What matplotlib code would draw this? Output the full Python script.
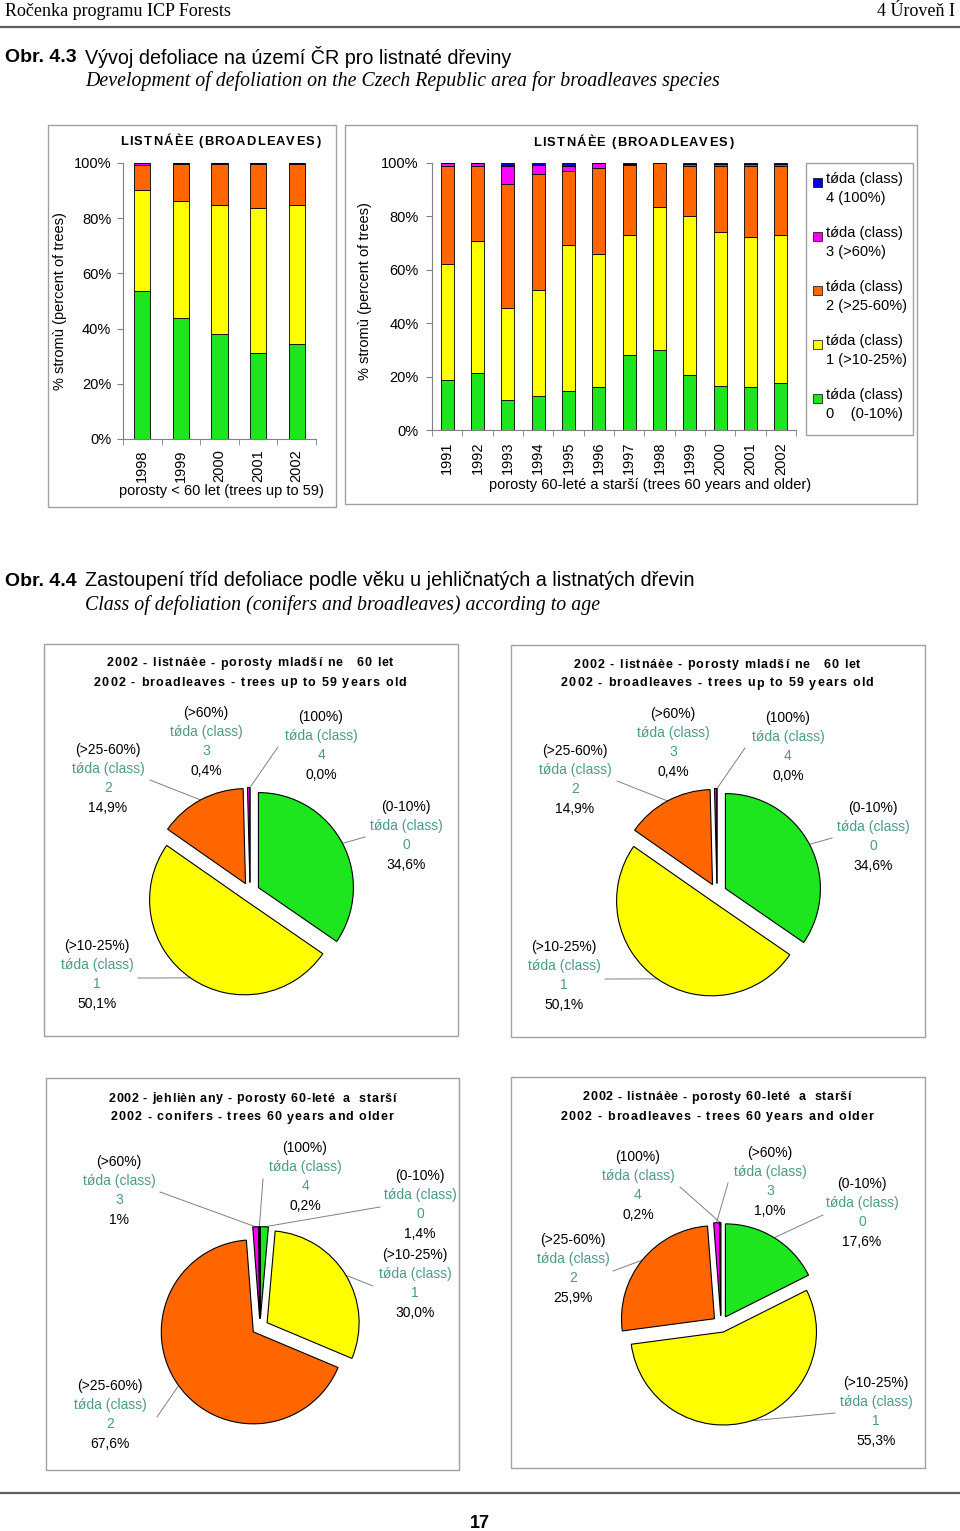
import numpy as np
import matplotlib
matplotlib.use('Agg')
import matplotlib.pyplot as plt
from matplotlib.patches import Rectangle

plt.rcParams['font.family'] = ['Liberation Sans', 'DejaVu Sans']

W, H = 960, 1531

# --- data: listnace, porosty do 59 let (podil trid defoliace v %)
roky_mlade = ['1998', '1999', '2000', '2001', '2002']
mlade_t0 = [53.6, 43.8, 38.0, 31.0, 34.6]
mlade_t1 = [36.5, 42.6, 46.7, 52.7, 50.1]
mlade_t2 = [9.0, 13.4, 15.0, 16.0, 14.9]
mlade_t3 = [0.8, 0.2, 0.3, 0.3, 0.4]
mlade_t4 = [0.1, 0.0, 0.0, 0.0, 0.0]

# --- data: listnace, porosty 60-lete a starsi
roky_stare = ['1991', '1992', '1993', '1994', '1995', '1996',
              '1997', '1998', '1999', '2000', '2001', '2002']
stare_t0 = [18.8, 21.3, 11.3, 12.9, 14.6, 16.0, 28.1, 30.0, 20.6, 16.5, 16.0, 17.6]
stare_t1 = [43.5, 49.3, 34.3, 39.4, 54.6, 49.8, 45.0, 53.7, 59.6, 57.6, 56.4, 55.3]
stare_t2 = [36.6, 28.3, 46.5, 43.5, 27.7, 32.4, 26.0, 16.2, 18.5, 24.6, 26.3, 25.9]
stare_t3 = [1.0, 1.0, 6.6, 3.4, 2.1, 1.8, 0.6, 0.1, 1.1, 1.0, 1.0, 1.0]
stare_t4 = [0.1, 0.1, 1.3, 0.8, 1.0, 0.0, 0.3, 0.0, 0.2, 0.3, 0.3, 0.2]

# --- kolace 2002 (trida 0..4)
kolac_listnace_mlade = [34.6, 50.1, 14.9, 0.4, 0.0]
kolac_jehlic_stare = [1.4, 30.0, 67.6, 1.0, 0.2]
kolac_listnace_stare = [17.6, 55.3, 25.9, 1.0, 0.2]
pct_listnace_mlade = ['34,6%', '50,1%', '14,9%', '0,4%', '0,0%']
pct_jehlic_stare = ['1,4%', '30,0%', '67,6%', '1%', '0,2%']
pct_listnace_stare = ['17,6%', '55,3%', '25,9%', '1,0%', '0,2%']

rozsahy = ['(0-10%)', '(>10-25%)', '(>25-60%)', '(>60%)', '(100%)']
cisla = ['0', '1', '2', '3', '4']
legenda = ['0    (0-10%)', '1 (>10-25%)', '2 (>25-60%)', '3 (>60%)', '4 (100%)']

barvy = ['#1ee61e', '#ffff00', '#ff6600', '#ff00ff', '#0000dd']
TEAL = '#4e9a82'
SEDA = '#a0a0a0'
OSA = '#808080'


def pbox(x0, y0, x1, y1):
    return [x0 / W, 1 - y1 / H, (x1 - x0) / W, (y1 - y0) / H]


fig = plt.figure(figsize=(W / 100, H / 100), dpi=100)
pg = fig.add_axes([0, 0, 1, 1], zorder=0)
pg.set_xlim(0, W)
pg.set_ylim(H, 0)
pg.axis('off')
rend = fig.canvas.get_renderer()


def ramecek(x0, y0, x1, y1):
    pg.add_patch(Rectangle((x0, y0), x1 - x0, y1 - y0, fill=False,
                           edgecolor=SEDA, linewidth=1))


# text s prostrkanymi pismeny (roztazeny na danou sirku)
def prostrkany(xc, y, s, sirka, fs):
    def sir(t):
        tt = pg.text(0, 0, t, fontsize=fs, fontweight='bold')
        w = tt.get_window_extent(renderer=rend).width
        tt.remove()
        return w
    zaklad = sir('||')
    sirky = [sir('|' + c + '|') - zaklad for c in s]
    mezera = (sirka - sum(sirky)) / (len(s) - 1)
    x = xc - sirka / 2
    for c, cw in zip(s, sirky):
        if c != ' ':
            pg.text(x, y + 0.36 * fs * 100 / 72, c, fontsize=fs, fontweight='bold',
                    ha='left', va='baseline')
        x += cw + mezera


# hlavicka stranky
pg.text(5, 12, 'Ročenka programu ICP Forests', family='Liberation Serif',
        fontsize=13, va='center', ha='left')
pg.text(955, 12, '4 Úroveň I', family='Liberation Serif', fontsize=13,
        va='center', ha='right')
pg.plot([0, W], [27, 27], color='#606060', linewidth=1.6)
pg.plot([0, W], [1493, 1493], color='#606060', linewidth=1.6)
pg.text(480, 1523, '17', fontsize=13, ha='center', va='center', fontweight='bold')

pg.text(5, 57, 'Obr. 4.3', fontsize=14, fontweight='bold', va='center')
pg.text(85, 57, 'Vývoj defoliace na území ČR pro listnaté dřeviny',
        fontsize=14.2, va='center')
pg.text(85, 81, 'Development of defoliation on the Czech Republic area for broadleaves species',
        family='Liberation Serif', style='italic', fontsize=14.3, va='center')
pg.text(5, 581, 'Obr. 4.4', fontsize=14, fontweight='bold', va='center')
pg.text(85, 581, 'Zastoupení tříd defoliace podle věku u jehličnatých a listnatých dřevin',
        fontsize=14.2, va='center')
pg.text(85, 605, 'Class of defoliation (conifers and broadleaves) according to age',
        family='Liberation Serif', style='italic', fontsize=14.3, va='center')


# sloupcovy graf se skladanymi sloupci
def sloupce(box, roky, tridy, ypad, xpad):
    ax = fig.add_axes(pbox(*box), zorder=2)
    ax.patch.set_alpha(0)
    x = np.arange(len(roky))
    spodek = np.zeros(len(roky))
    for t, c in zip(tridy, barvy):
        ax.bar(x, t, 0.42, bottom=spodek, color=c, edgecolor='black', linewidth=0.6)
        spodek += np.array(t)
    ax.set_xlim(-0.5, len(roky) - 0.5)
    ax.set_ylim(0, 100)
    for s in ['top', 'right']:
        ax.spines[s].set_visible(False)
    for s in ['left', 'bottom']:
        ax.spines[s].set_color(OSA)
        ax.spines[s].set_linewidth(0.8)
    ax.set_yticks(range(0, 101, 20))
    ax.set_yticklabels([f'{v}%' for v in range(0, 101, 20)])
    ax.tick_params(axis='y', length=4, color=OSA, pad=ypad, labelsize=10.5)
    ax.set_xticks(x)
    ax.set_xticklabels(roky, rotation=90)
    ax.tick_params(axis='x', which='major', length=0, pad=xpad, labelsize=10.5)
    ax.set_xticks(np.arange(-0.5, len(roky), 1), minor=True)
    ax.tick_params(axis='x', which='minor', length=4, color=OSA)
    return ax


ramecek(48, 125, 336, 507)
sloupce((123, 163, 316, 439), roky_mlade,
        [mlade_t0, mlade_t1, mlade_t2, mlade_t3, mlade_t4], 4.5, 7.5)
prostrkany(220, 140, 'LISTNÁÈE (BROADLEAVES)', 200, 9.3)
pg.text(221, 491, 'porosty < 60 let (trees up to 59)', fontsize=10.5,
        ha='center', va='center')
pg.text(60, 301, '% stromù (percent of trees)', fontsize=10.5, rotation=90,
        ha='center', va='center')

ramecek(345, 125, 917, 504)
sloupce((432, 163, 796, 430), roky_stare,
        [stare_t0, stare_t1, stare_t2, stare_t3, stare_t4], 5.8, 8.5)
prostrkany(633, 141, 'LISTNÁÈE (BROADLEAVES)', 200, 9.3)
pg.text(650, 485, 'porosty 60-leté a starší (trees 60 years and older)',
        fontsize=10.5, ha='center', va='center')
pg.text(365, 291, '% stromù (percent of trees)', fontsize=10.5, rotation=90,
        ha='center', va='center')

# legenda
pg.add_patch(Rectangle((806, 163), 107, 272, fill=False, edgecolor=SEDA, linewidth=1))
for k, i in enumerate([4, 3, 2, 1, 0]):
    y = 179 + 54 * k
    pg.add_patch(Rectangle((813, y - 1), 9, 9, facecolor=barvy[i],
                           edgecolor='black', linewidth=0.5))
    pg.text(826, y, 'tǿda (class)', fontsize=10.5, va='center')
    pg.text(826, y + 19, legenda[i], fontsize=10.5, va='center')


# kolacovy graf s popisky
def kolac(hodnoty, pct, C, R, expl, popisky, vodice, titulky, ty):
    k = 1.45
    ax = fig.add_axes(pbox(C[0] - k * R, C[1] - k * R, C[0] + k * R, C[1] + k * R), zorder=2)
    kl, _ = ax.pie(hodnoty, colors=barvy, explode=[expl] * 5, startangle=90,
                   counterclock=False, radius=1,
                   wedgeprops=dict(edgecolor='black', linewidth=0.8))
    ax.set_xlim(-k, k)
    ax.set_ylim(-k, k)
    ax.axis('off')
    for i in range(5):
        lx, ly = popisky[i]
        radky = [(rozsahy[i], 'black'), ('tǿda (class)', TEAL), (cisla[i], TEAL), (pct[i], 'black')]
        for j, (t, c) in enumerate(radky):
            pg.text(lx, ly + 19.2 * j, t, fontsize=10, color=c, ha='center', va='center')
        if vodice[i] is not None:
            w = kl[i]
            th = np.radians((w.theta1 + w.theta2) / 2)
            px = w.center[0] + w.r * np.cos(th)
            py = w.center[1] + w.r * np.sin(th)
            pg.plot([vodice[i][0], C[0] + px * R], [vodice[i][1], C[1] - py * R],
                    color=OSA, linewidth=0.7)
    for j, (t, sirka) in enumerate(titulky):
        prostrkany(ty[0], ty[1] + 19 * j, t, sirka, 9)


tit_mlade = [('2002 - listnáèe - porosty mladší ne   60 let', 286),
             ('2002 - broadleaves - trees up to 59 years old', 312)]

ramecek(44, 644, 458, 1036)
pop1 = [(406, 807), (97, 946), (108, 750), (206, 713), (321, 717)]
vod1 = [(365, 837), (138, 978), (150, 780), None, (278, 747)]
kolac(kolac_listnace_mlade, pct_listnace_mlade, (250, 892), 95, 0.1,
      pop1, vod1, tit_mlade, (250, 662))

ramecek(511, 645, 925, 1037)
pop2 = [(x + 467, y + 1) for x, y in pop1]
vod2 = [None if v is None else (v[0] + 467, v[1] + 1) for v in vod1]
kolac(kolac_listnace_mlade, pct_listnace_mlade, (717, 893), 95, 0.1,
      pop2, vod2, tit_mlade, (717, 663))

ramecek(46, 1078, 459, 1470)
pop3 = [(420, 1176), (415, 1255), (110, 1386), (119, 1162), (305, 1148)]
vod3 = [(380, 1207), (373, 1286), (157, 1417), (160, 1192), (263, 1179)]
kolac(kolac_jehlic_stare, pct_jehlic_stare, (260, 1327), 92, 0.09,
      pop3, vod3, [('2002 - jehlièn any - porosty 60-leté  a  starší', 287),
                   ('2002 - conifers - trees 60 years and older', 282)], (252, 1097))

ramecek(511, 1077, 925, 1468)
pop4 = [(862, 1184), (876, 1383), (573, 1240), (770, 1153), (638, 1157)]
vod4 = [(823, 1215), (835, 1413), (613, 1271), (728, 1183), (680, 1187)]
kolac(kolac_listnace_stare, pct_listnace_stare, (721, 1324), 93, 0.09,
      pop4, vod4, [('2002 - listnáèe - porosty 60-leté  a  starší', 268),
                   ('2002 - broadleaves - trees 60 years and older', 312)], (717, 1096))

fig.savefig('out.png', dpi=100)
